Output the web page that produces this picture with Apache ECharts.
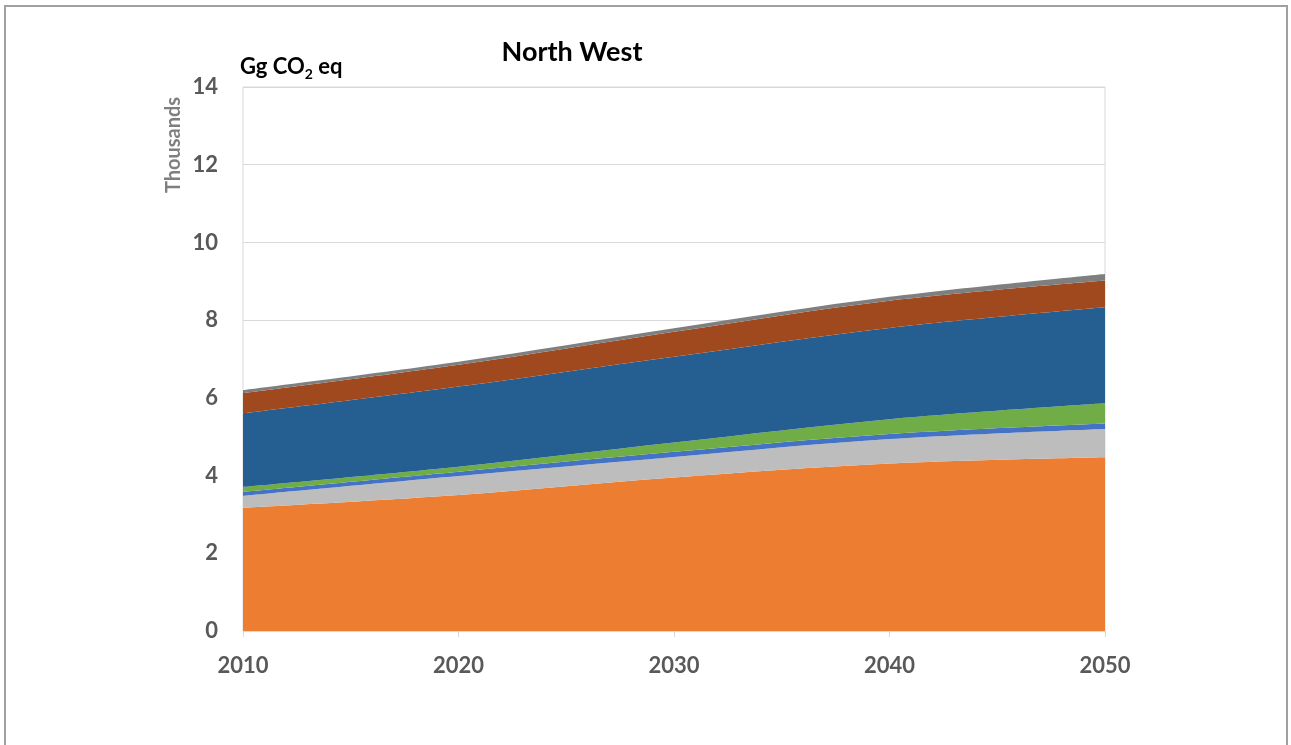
<!DOCTYPE html>
<html>
<head>
<meta charset="utf-8">
<script src="https://cdn.jsdelivr.net/npm/echarts@6/dist/echarts.min.js"></script>
<style>
  html, body { margin: 0; padding: 0; background: #fff; }
  #frame { position: absolute; left: 4px; top: 5px; width: 1284px; height: 760px; border: 2px solid #a0a0a0; box-sizing: border-box; }
  #chart { width: 1291px; height: 745px; }
</style>
</head>
<body>
<div id="frame"></div>
<div id="chart"></div>
<script>
// years on the x axis
var years = ['2010', '2020', '2030', '2040', '2050'];
// stacked series, thousands of Gg CO2 eq (bottom to top)
var sOrange = [3.17, 3.50, 3.95, 4.31, 4.47];
var sGrey = [0.31, 0.49, 0.53, 0.63, 0.73];
var sBlue = [0.10, 0.11, 0.13, 0.13, 0.14];
var sGreen = [0.13, 0.13, 0.24, 0.38, 0.52];
var sDarkBlue = [1.89, 2.06, 2.21, 2.35, 2.47];
var sBrown = [0.52, 0.56, 0.64, 0.70, 0.69];
var sDarkGrey = [0.08, 0.08, 0.09, 0.10, 0.17];

var layers = [
  { name: 'orange', data: sOrange, color: '#ED7D31' },
  { name: 'grey', data: sGrey, color: '#BDBDBD' },
  { name: 'blue', data: sBlue, color: '#4472C4' },
  { name: 'green', data: sGreen, color: '#70AD47' },
  { name: 'darkblue', data: sDarkBlue, color: '#255E91' },
  { name: 'brown', data: sBrown, color: '#A1491E' },
  { name: 'darkgrey', data: sDarkGrey, color: '#7F7F7F' }
];

var series = layers.map(function (l) {
  return {
    name: l.name,
    type: 'line',
    stack: 'total',
    smooth: 0.35,
    symbol: 'none',
    data: l.data,
    lineStyle: { width: 0 },
    itemStyle: { color: l.color },
    areaStyle: { color: l.color, opacity: 1 }
  };
});

var chart = echarts.init(document.getElementById('chart'));
var font = 'Lato, "Open Sans", sans-serif';
chart.setOption({
  animation: false,
  title: {
    text: 'North West',
    left: 567,
    top: 34,
    textAlign: 'center',
    textStyle: { fontFamily: font, fontSize: 27, fontWeight: 'bold', color: '#000' }
  },
  graphic: [
    {
      type: 'text',
      left: 240,
      top: 56,
      style: {
        text: '{a|Gg CO}{s|2}{a| eq}',
        rich: {
          a: { fontFamily: font, fontSize: 22, fontWeight: 'bold', fill: '#000' },
          s: { fontFamily: font, fontSize: 14, fontWeight: 'bold', fill: '#000', padding: [14, 0, 0, 0] }
        }
      }
    },
    {
      type: 'text',
      x: 174,
      y: 145,
      rotation: Math.PI / 2,
      style: {
        text: 'Thousands',
        fontFamily: font,
        fontSize: 20,
        fontWeight: 'bold',
        fill: '#7f7f7f',
        align: 'center',
        verticalAlign: 'middle'
      }
    }
  ],
  grid: {
    left: 243, right: 186, top: 87, bottom: 114,
    show: true, borderColor: '#d9d9d9', borderWidth: 1
  },
  xAxis: {
    type: 'category',
    boundaryGap: false,
    data: years,
    axisLine: { lineStyle: { color: '#d9d9d9' } },
    axisTick: { show: true, length: 6, lineStyle: { color: '#d9d9d9' } },
    axisLabel: { margin: 24, fontFamily: font, fontSize: 22, fontWeight: 'bold', color: '#595959' },
    splitLine: { show: false }
  },
  yAxis: {
    type: 'value',
    min: 0, max: 14, interval: 2,
    axisLine: { show: false },
    axisTick: { show: false },
    axisLabel: { margin: 25, fontFamily: font, fontSize: 22, fontWeight: 'bold', color: '#595959' },
    splitLine: { lineStyle: { color: '#d9d9d9' } }
  },
  series: series
});
</script>
</body>
</html>
